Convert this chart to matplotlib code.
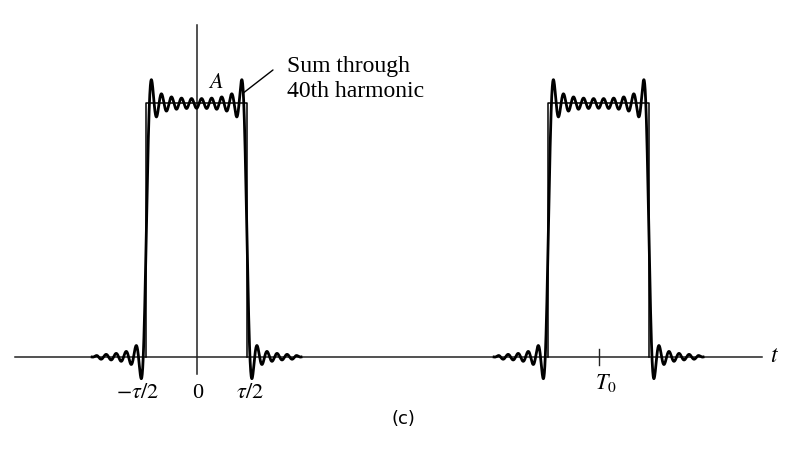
import numpy as np
import matplotlib.pyplot as plt

plt.rcParams['font.family'] = ['Liberation Serif', 'DejaVu Serif']
plt.rcParams['mathtext.fontset'] = 'stix'

# --- pulse train (time in units of T0) ---
A = 1.0
T0 = 1.0
tau = 0.25
n_harmonics = 40
pulse_centers = [0.0, 1.0]

# ripples are only drawn a few cycles past each edge
ripple_span = 0.135
ripple_ramp = 0.015

tick_positions = [-tau / 2, 0.0, tau / 2, T0]
tick_labels = [r'$-\tau/2$', '0', r'$\tau/2$', r'$T_0$']
tick_label_shift = [-9, 1.5, 3, 7]      # pixels
tick_label_top = [-0.108, -0.108, -0.108, -0.058]

t = np.linspace(-0.452, 1.407, 8000)

# sum through the 40th harmonic
x_sum = np.full_like(t, A * tau / T0)
for n in range(1, n_harmonics + 1):
    x_sum += 2 * A * tau / T0 * np.sinc(n * tau / T0) * np.cos(2 * np.pi * n * t / T0)

ideal = A * (np.abs(((t + T0 / 2) % T0) - T0 / 2) < tau / 2)
edges = np.array([c + s * tau / 2 for c in pulse_centers for s in (-1, 1)])
dist = np.min(np.abs(t[:, None] - edges[None, :]), axis=1)
weight = np.clip((ripple_span - dist) / ripple_ramp, 0, 1)
weight[ideal > 0] = 1.0
curve = ideal + (x_sum - ideal) * weight
curve[weight == 0] = np.nan

# --- figure ---
fig = plt.figure(figsize=(7.94, 4.5), dpi=100)
ax = fig.add_axes([0, 0, 1, 1])
ax.set_xlim(-0.489, 1.486)
ax.set_ylim(-0.367, 1.408)
ax.axis('off')

# axes
ax.plot([t[0], t[-1]], [0, 0], color='#222222', lw=1.1)
ax.plot([0, 0], [-0.067, 1.31], color='#222222', lw=1.1)
ax.plot([T0, T0], [-0.032, 0.032], color='#222222', lw=1.0)

# ideal rectangular pulses
for c in pulse_centers:
    ax.plot([c - tau / 2, c - tau / 2, c + tau / 2, c + tau / 2],
            [0, A, A, 0], color='black', lw=1.1)

# Fourier sum
ax.plot(t, curve, color='black', lw=2.0)

# tick labels
for pos, lab, dx, top in zip(tick_positions, tick_labels, tick_label_shift, tick_label_top):
    ax.annotate(lab, xy=(pos, top), xytext=(dx * 72 / 100, 0), textcoords='offset points',
                ha='center', va='top', fontsize=16)

ax.text(1.437, 0.0, r'$t$', fontsize=17, ha='center', va='center')
ax.text(0.047, 1.08, r'$A$', fontsize=16, ha='center', va='center')

# leader line and label
ax.annotate('', xy=(0.116, 1.041), xytext=(0.190, 1.132),
            arrowprops=dict(arrowstyle='-', color='black', lw=1.0,
                            shrinkA=0, shrinkB=0))
ax.text(0.225, 1.124, 'Sum through', fontsize=17, ha='left', va='baseline')
ax.text(0.225, 1.026, '40th harmonic', fontsize=17, ha='left', va='baseline')

ax.text(0.515, -0.243, '(c)', fontsize=13, family='DejaVu Sans',
        ha='center', va='center')

fig.savefig('out.png', dpi=100)
